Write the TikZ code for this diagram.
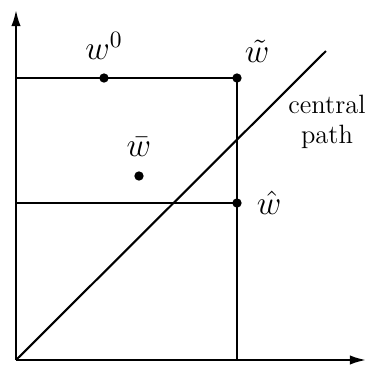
\documentclass[tikz,border=0pt]{standalone}
\usepackage{tikz}
\usetikzlibrary{arrows.meta, positioning}
\tikzstyle{dot} = [circle, fill=black, inner sep=0pt, minimum size=0.14cm]
\tikzstyle{axis} = [line width=0.9pt, -{Latex[length=0.24cm, width=0.14cm]}]
\tikzstyle{edge} = [line width=0.9pt]
\tikzstyle{mathlabel} = [font=\Large, inner sep=1pt]
\tikzstyle{textlabel} = [font=\fontsize{11.3}{12.5}\selectfont, align=center, inner sep=0pt]

\begin{document}
\begin{tikzpicture}[x=0.015cm, y=0.015cm]
\useasboundingbox (0,0) rectangle (369,370);

% --- Axes ---
\coordinate (origin) at (16,10);
\coordinate (y_top) at (16,360);
\coordinate (x_end) at (366,10);
\draw [axis] (origin) -- (y_top);
\draw [axis] (origin) -- (x_end);

% --- Points ---
\node (w0) [dot] at (104,292) {};
\node (w_tilde) [dot] at (237,292) {};
\node (w_hat) [dot] at (237,167) {};
\node (w_bar) [dot] at (139,194) {};

% --- Box lines ---
\coordinate (top_left) at (16,292);
\coordinate (mid_left) at (16,167);
\coordinate (foot) at (237,10);
\draw [edge] (top_left) -- (w0.center) -- (w_tilde.center) -- (w_hat.center) -- (foot);
\draw [edge] (mid_left) -- (w_hat.center);

% --- Central path ---
\coordinate (cp_end) at (326,319);
\draw [edge] (origin) -- (cp_end);

% --- Labels ---
\node (w0_lbl) [mathlabel, above=0.16cm of w0] {$w^0$};
\node (w_tilde_lbl) [mathlabel, above right=0.14cm and 0.02cm of w_tilde] {$\tilde{w}$};
\node (w_bar_lbl) [mathlabel, above=0.18cm of w_bar] {$\bar{w}$};
\node (w_hat_lbl) [mathlabel, right=0.18cm of w_hat] {$\hat{w}$};
\node (cp_lbl) [textlabel] at (327,248) {central\\path};

\end{tikzpicture}
\end{document}
